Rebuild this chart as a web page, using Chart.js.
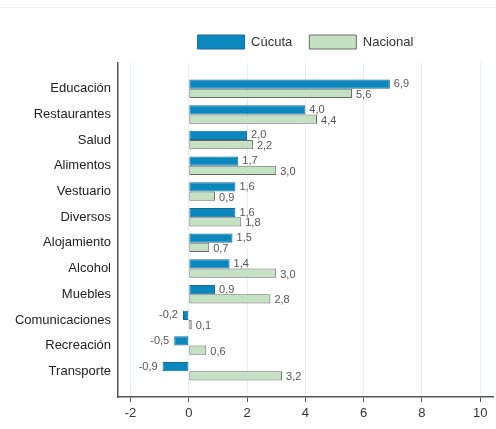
<!DOCTYPE html>
<html>
<head>
<meta charset="utf-8">
<script src="https://cdn.jsdelivr.net/npm/chart.js@4.4.0/dist/chart.umd.min.js"></script>
<style>
  html, body { margin: 0; padding: 0; background: #ffffff; }
  #wrap { position: relative; width: 496px; height: 429px; }
  #topline { position: absolute; left: 0; top: 7px; width: 496px; height: 1px; background: #f0f0f0; }
  canvas { position: absolute; left: 0; top: 0; }
</style>
</head>
<body>
<div id="wrap">
  <div id="topline"></div>
  <canvas id="c" width="496" height="429"></canvas>
</div>
<script>
const categories = ['Educación', 'Restaurantes', 'Salud', 'Alimentos', 'Vestuario', 'Diversos',
  'Alojamiento', 'Alcohol', 'Muebles', 'Comunicaciones', 'Recreación', 'Transporte'];
const cucuta = [6.9, 4.0, 2.0, 1.7, 1.6, 1.6, 1.5, 1.4, 0.9, -0.2, -0.5, -0.9];
const nacional = [5.6, 4.4, 2.2, 3.0, 0.9, 1.8, 0.7, 3.0, 2.8, 0.1, 0.6, 3.2];
const xTicks = [-2, 0, 2, 4, 6, 8, 10];
const seriesNames = ['Cúcuta', 'Nacional'];

const FONT = "'Liberation Sans', Arial, sans-serif";

const valueLabels = {
  id: 'valueLabels',
  afterDatasetsDraw(chart) {
    const ctx = chart.ctx;
    ctx.save();
    ctx.font = '11px ' + FONT;
    ctx.fillStyle = '#555555';
    ctx.textBaseline = 'middle';
    chart.data.datasets.forEach((ds, di) => {
      const meta = chart.getDatasetMeta(di);
      meta.data.forEach((el, i) => {
        const v = ds.data[i];
        if (v === null || v === undefined) return;
        const txt = v.toFixed(1).replace('.', ',');
        const dy = di === 0 ? 0 : 1.5;
        if (v >= 0) {
          ctx.textAlign = 'left';
          ctx.fillText(txt, el.x + 4, el.y + dy);
        } else {
          ctx.textAlign = 'right';
          ctx.fillText(txt, el.x - 5, el.y + dy);
        }
      });
    });
    ctx.restore();
  }
};

new Chart(document.getElementById('c'), {
  type: 'bar',
  data: {
    labels: ['', ...categories, ''],
    datasets: [
      {
        label: seriesNames[0],
        data: [null, ...cucuta, null],
        backgroundColor: '#0a88bd',
        borderColor: '#1b6a8f',
        borderWidth: 1,
        borderSkipped: false,
        categoryPercentage: 0.72,
        barPercentage: 1.0
      },
      {
        label: seriesNames[1],
        data: [null, ...nacional, null],
        backgroundColor: '#c4e2c3',
        borderColor: '#6a6a6a',
        borderWidth: 1,
        borderSkipped: false,
        categoryPercentage: 0.72,
        barPercentage: 1.0
      }
    ]
  },
  options: {
    indexAxis: 'y',
    responsive: false,
    animation: false,
    devicePixelRatio: 1,
    layout: { padding: { top: 18, right: 3, bottom: 0, left: 0 } },
    plugins: {
      legend: {
        position: 'top',
        fullSize: false,
        labels: {
          boxWidth: 47,
          boxHeight: 14,
          padding: 17,
          color: '#333333',
          font: { family: FONT, size: 13 }
        }
      },
      tooltip: { enabled: false }
    },
    scales: {
      x: {
        type: 'linear',
        min: -2.43,
        max: 10.44,
        afterBuildTicks(scale) { scale.ticks = xTicks.map(v => ({ value: v })); },
        afterFit(scale) { scale.height = 32; },
        ticks: {
          color: '#333333',
          padding: 4,
          font: { family: FONT, size: 13 },
          callback: (v) => String(v)
        },
        grid: {
          color: '#e6eff3',
          tickColor: '#555555',
          tickLength: 5
        },
        border: { display: true, color: '#555555', width: 1.5 }
      },
      xTopSpacer: {
        type: 'linear',
        position: 'top',
        display: true,
        afterFit(scale) { scale.height = 4; },
        ticks: { display: false },
        grid: { display: false, drawTicks: false },
        border: { display: false }
      },
      y: {
        type: 'category',
        offset: false,
        afterFit(scale) { scale.width = 118; },
        ticks: {
          color: '#222222',
          padding: 7,
          autoSkip: false,
          font: { family: FONT, size: 13 }
        },
        grid: { display: true, color: 'rgba(0,0,0,0)', drawTicks: false },
        border: { display: true, color: '#555555', width: 1.5 }
      }
    }
  },
  plugins: [valueLabels]
});
</script>
</body>
</html>
